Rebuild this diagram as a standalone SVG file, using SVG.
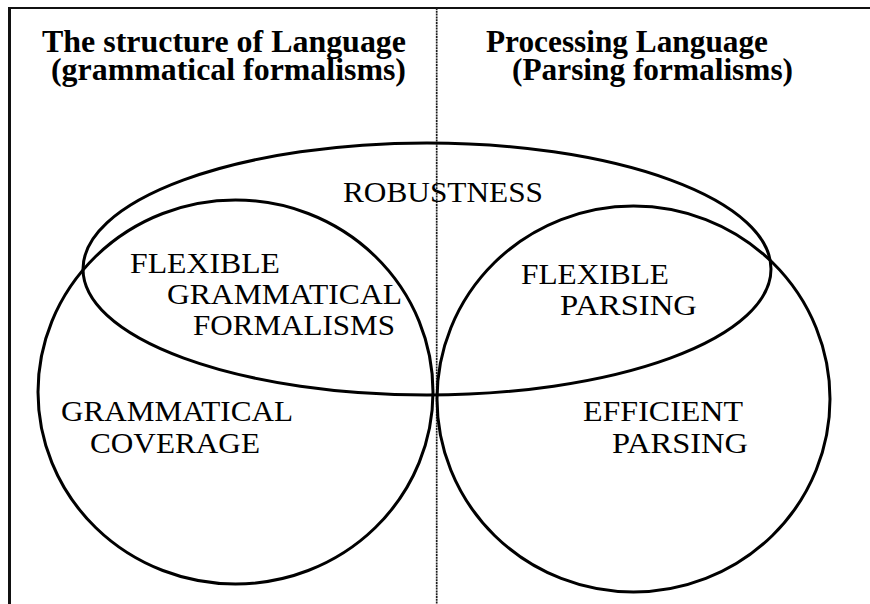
<svg xmlns="http://www.w3.org/2000/svg" width="870" height="604" viewBox="0 0 870 604">
  <style>
    .bg { fill: #ffffff; }
    .frame { stroke: #111111; fill: none; }
    .divider { stroke: #1a1a1a; stroke-width: 1.7; stroke-dasharray: 2 0.8; fill: none; }
    .set { fill: none; stroke: #000000; stroke-width: 3; }
    .title { font-family: "Liberation Serif", "Times New Roman", serif; font-weight: bold; font-size: 31px; fill: #000000; }
    .label { font-family: "Liberation Serif", "Times New Roman", serif; font-size: 30px; fill: #000000; }
  </style>

  <rect class="bg" x="0" y="0" width="870" height="604"/>

  <!-- page frame -->
  <g id="frame">
    <line class="frame" x1="9" y1="8" x2="870" y2="8" stroke-width="1.8"/>
    <line class="frame" x1="9.5" y1="7" x2="9.5" y2="604" stroke-width="3"/>
  </g>
  <!-- dividing rule between the two halves -->
  <g id="connectors">
    <line class="divider" x1="436.7" y1="8" x2="436.7" y2="604"/>
  </g>

  <!-- column headings -->
  <g id="heading-left">
    <text class="title" x="42" y="52" textLength="364" lengthAdjust="spacingAndGlyphs">The structure of Language</text>
    <text class="title" x="51" y="80" textLength="355" lengthAdjust="spacingAndGlyphs">(grammatical formalisms)</text>
  </g>
  <g id="heading-right">
    <text class="title" x="486" y="52" textLength="282" lengthAdjust="spacingAndGlyphs">Processing Language</text>
    <text class="title" x="512" y="80" textLength="281" lengthAdjust="spacingAndGlyphs">(Parsing formalisms)</text>
  </g>

  <!-- overlapping sets -->
  <g id="robustness">
    <ellipse class="set" cx="427" cy="269" rx="344" ry="126"/>
    <text class="label" x="343" y="202" textLength="200" lengthAdjust="spacingAndGlyphs">ROBUSTNESS</text>
  </g>
  <g id="grammatical-coverage">
    <ellipse class="set" cx="235.5" cy="392" rx="197.5" ry="192"/>
    <text class="label" x="61" y="421" textLength="232" lengthAdjust="spacingAndGlyphs">GRAMMATICAL</text>
    <text class="label" x="90" y="453" textLength="170" lengthAdjust="spacingAndGlyphs">COVERAGE</text>
  </g>
  <g id="efficient-parsing">
    <ellipse class="set" cx="633.5" cy="399" rx="196.5" ry="193"/>
    <text class="label" x="583" y="421" textLength="160" lengthAdjust="spacingAndGlyphs">EFFICIENT</text>
    <text class="label" x="612" y="453" textLength="136" lengthAdjust="spacingAndGlyphs">PARSING</text>
  </g>
  <g id="flexible-grammatical-formalisms">
    <text class="label" x="130" y="273" textLength="150" lengthAdjust="spacingAndGlyphs">FLEXIBLE</text>
    <text class="label" x="167" y="304" textLength="235" lengthAdjust="spacingAndGlyphs">GRAMMATICAL</text>
    <text class="label" x="193" y="335" textLength="202" lengthAdjust="spacingAndGlyphs">FORMALISMS</text>
  </g>
  <g id="flexible-parsing">
    <text class="label" x="521" y="284" textLength="148" lengthAdjust="spacingAndGlyphs">FLEXIBLE</text>
    <text class="label" x="560" y="315" textLength="137" lengthAdjust="spacingAndGlyphs">PARSING</text>
  </g>
</svg>
